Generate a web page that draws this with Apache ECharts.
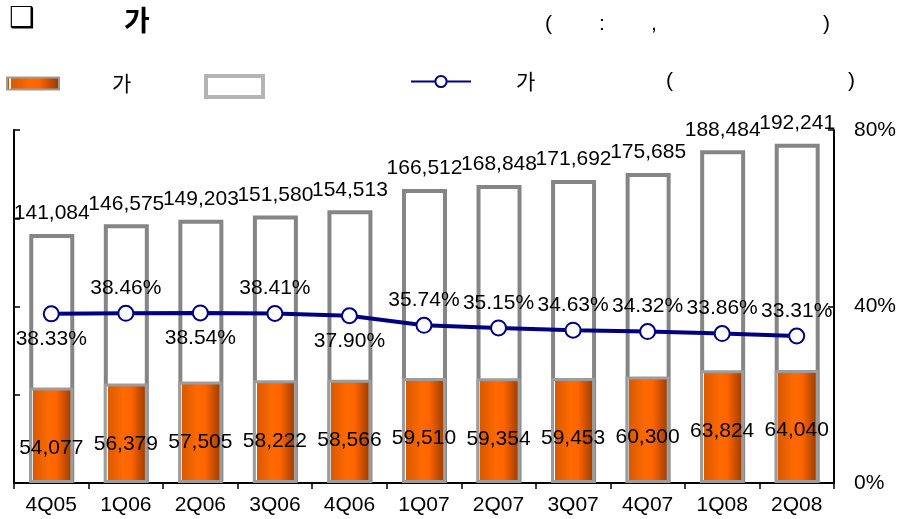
<!DOCTYPE html>
<html><head><meta charset="utf-8">
<script src="https://cdn.jsdelivr.net/npm/echarts@6/dist/echarts.min.js"></script>
<style>html,body{margin:0;padding:0;background:#fff}#c{width:899px;height:519px}</style>
</head><body><div id="c"></div>
<script>
var categories = ['4Q05','1Q06','2Q06','3Q06','4Q06','1Q07','2Q07','3Q07','4Q07','1Q08','2Q08'];
var partValues = [54077,56379,57505,58222,58566,59510,59354,59453,60300,63824,64040];
var totalValues = [141084,146575,149203,151580,154513,166512,168848,171692,175685,188484,192241];
var ratioValues = [38.33,38.46,38.54,38.41,37.90,35.74,35.15,34.63,34.32,33.86,33.31];
var rightTicks = ['0%','40%','80%'];

var FONT = 'Liberation Sans, Arial, "Noto Sans CJK KR", sans-serif';
var KFONT = '"Noto Sans CJK KR", sans-serif';
var FS = 21;
var chart = echarts.init(document.getElementById('c'));
var orangeGrad = new echarts.graphic.LinearGradient(0,0,1,0,[
  {offset:0,color:'#a84200'},{offset:0.05,color:'#c95000'},
  {offset:0.05,color:'#ffffff'},{offset:0.085,color:'#ffffff'},
  {offset:0.085,color:'#d95a00'},{offset:0.45,color:'#ff6a00'},
  {offset:0.62,color:'#ff6400'},{offset:1,color:'#8f3800'}]);

var lineData = ratioValues.map(function(v,i){
  var below = (i < 5 && i % 2 === 0);
  return {value:v, label:{position: below ? 'bottom' : 'top'}};
});

chart.setOption({
  animation:false,
  textStyle:{fontFamily:FONT},
  grid:{left:14,right:61,top:130,bottom:36},
  graphic:[
    {type:'text',left:9,top:5,style:{text:'❑',font:'bold 29px DejaVu Sans',fill:'#000'}},
    {type:'text',left:124,top:6,style:{text:'가',font:'bold 28px '+KFONT,fill:'#000'}},
    {type:'text',left:545,top:14,style:{text:'(',font:'21px '+FONT,fill:'#000'}},
    {type:'text',left:599,top:14,style:{text:':',font:'21px '+FONT,fill:'#000'}},
    {type:'text',left:651,top:14,style:{text:',',font:'21px '+FONT,fill:'#000'}},
    {type:'text',left:823,top:14,style:{text:')',font:'21px '+FONT,fill:'#000'}}
  ],
  legend:[
    {left:1,top:68,itemWidth:52,itemHeight:12,icon:'rect',data:['가'],
     textStyle:{fontFamily:KFONT,fontSize:FS,color:'#000',padding:[0,0,0,48]}},
    {left:199,top:69,itemWidth:57,itemHeight:21,icon:'rect',data:[' '],
     itemStyle:{borderColor:'#b4b4b4',borderWidth:4},
     textStyle:{fontSize:FS}},
    {left:405,top:66,itemWidth:60,itemHeight:14,data:['가 ( )'],
     formatter:function(){return '{a|가}{b|(}{c|)}';},
     textStyle:{fontSize:FS,color:'#000',rich:{
       a:{fontFamily:KFONT,fontSize:FS,width:150,padding:[0,0,0,40]},
       b:{fontFamily:FONT,fontSize:FS,width:182},
       c:{fontFamily:FONT,fontSize:FS}}}}
  ],
  xAxis:{type:'category',data:categories,
    axisLine:{lineStyle:{color:'#000',width:2}},
    axisTick:{show:true,length:6,lineStyle:{color:'#000',width:1.5}},
    axisLabel:{fontSize:FS,color:'#000',margin:12,fontFamily:FONT}},
  yAxis:[
    {type:'value',min:0,max:200000,interval:50000,position:'left',
     axisLine:{show:true,lineStyle:{color:'#000',width:2}},
     axisTick:{show:true,inside:true,length:6,lineStyle:{color:'#000',width:1.5}},
     axisLabel:{show:false},splitLine:{show:false}},
    {type:'value',min:0,max:80,interval:40,position:'right',
     axisLine:{show:true,lineStyle:{color:'#000',width:2}},
     axisTick:{show:true,inside:true,length:6,lineStyle:{color:'#000',width:1.5}},
     axisLabel:{fontSize:FS,color:'#000',margin:20,fontFamily:FONT,
       formatter:function(v){return rightTicks[Math.round(v/40)];}},
     splitLine:{show:false}}
  ],
  series:[
    {name:' ',type:'bar',data:totalValues,barWidth:45,barGap:'-100%',z:2,
     itemStyle:{color:'#fff',borderColor:'#858585',borderWidth:4},
     label:{show:true,position:'top',distance:10,fontSize:FS,color:'#000',fontFamily:FONT,
       formatter:function(p){return p.value.toLocaleString('en-US');}}},
    {name:'가',type:'bar',data:partValues,barWidth:44,z:3,
     itemStyle:{color:orangeGrad,borderColor:'#9c9c9c',borderWidth:3},
     label:{show:true,position:'insideTop',distance:50,fontSize:FS,color:'#000',fontFamily:FONT,
       formatter:function(p){return p.value.toLocaleString('en-US');}}},
    {name:'가 ( )',type:'line',yAxisIndex:1,data:lineData,z:5,
     lineStyle:{color:'#000080',width:4},
     itemStyle:{color:'#fff',borderColor:'#000080',borderWidth:2},
     symbol:'circle',symbolSize:15,
     label:{show:true,distance:6,fontSize:FS,color:'#000',fontFamily:FONT,
       formatter:function(p){return p.value.toFixed(2)+'%';}}}
  ]
});
</script></body></html>
